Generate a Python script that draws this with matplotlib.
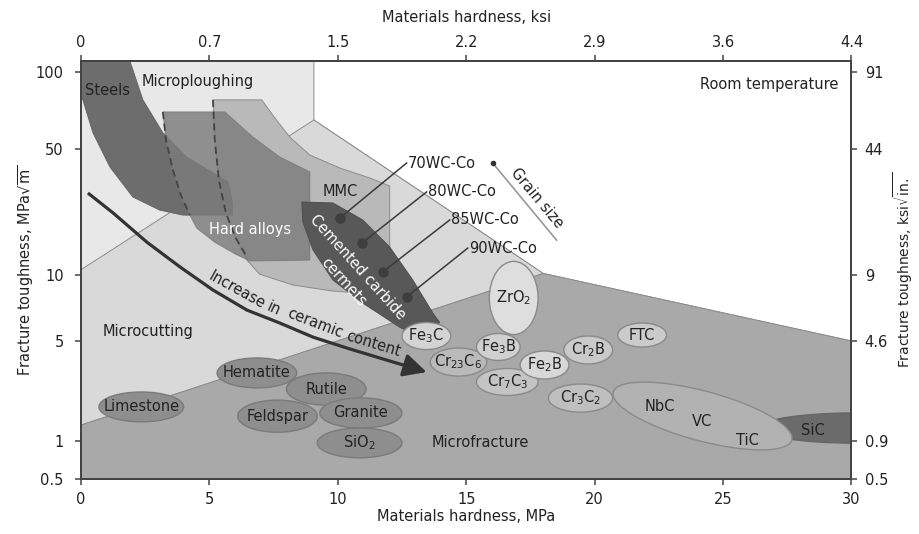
import numpy as np
import matplotlib
matplotlib.use('Agg')
import matplotlib.pyplot as plt
from matplotlib.patches import Polygon, Ellipse
from matplotlib.transforms import IdentityTransform

plt.rcParams['font.family'] = ['DejaVu Sans']
plt.rcParams['mathtext.fontset'] = 'dejavusans'

# hardness axis (MPa) with ksi equivalents on top
hard_ticks = [0, 5, 10, 15, 20, 25, 30]
ksi_labels = ['0', '0.7', '1.5', '2.2', '2.9', '3.6', '4.4']

# toughness axis (MPa*sqrt(m)) with ksi*sqrt(in) equivalents on the right
tough_ticks = [0.5, 1, 5, 10, 50, 100]
tough_labels = ['0.5', '1', '5', '10', '50', '100']
ksi_in_labels = ['0.5', '0.9', '4.6', '9', '44', '91']
# the toughness axis is stretched unevenly between ticks: height of each tick
tick_height = [0, 37.5, 138, 204, 330, 407]

# wear regimes (hardness, toughness)
ploughing = [(0, 0.5), (0, 110), (9.07, 110), (9.07, 64.9), (18.0, 10.2), (30, 5.0), (30, 0.5)]
cutting = [(0, 10.7), (9.07, 64.9), (18.0, 10.2), (0, 1.3)]
fracture = [(0, 0.5), (0, 1.3), (18.0, 10.2), (30, 5.0), (30, 0.5)]

steels = [(0, 110), (1.91, 110), (2.41, 77.8), (3.19, 57.8), (4.12, 45.1), (5.14, 36.8),
          (5.72, 32.8), (5.88, 26.1), (5.91, 21.5), (3.97, 21.5), (3.07, 22.9), (2.02, 27.1),
          (1.13, 39.7), (0.47, 57.8), (0.04, 79.8), (0, 79.8)]
mmc = [(5.14, 77.8), (7.04, 77.8), (7.55, 66.1), (8.13, 55.7), (8.91, 46.3), (10.08, 39.2),
       (11.25, 34.5), (12.02, 31.2), (12.02, 10.7), (10.86, 8.28), (9.81, 8.45), (8.25, 9.0),
       (6.96, 10.1), (6.46, 12.1), (6.03, 16.0), (5.64, 22.1), (5.37, 33.6), (5.21, 54.2)]
hard_alloys = [(3.19, 69.8), (5.60, 69.8), (6.69, 55.7), (7.74, 45.1), (8.91, 37.3), (8.91, 12.1),
               (6.58, 11.96), (6.0, 13.1), (5.21, 15.2), (4.51, 18.2), (4.24, 21.5), (3.89, 27.8),
               (3.58, 38.2), (3.31, 54.2)]
alloy_edge = [(3.19, 69.8), (3.31, 54.2), (3.58, 38.2), (3.89, 27.8), (4.24, 21.5)]
mmc_edge = [(5.14, 77.8), (5.21, 54.2), (5.37, 33.6), (5.64, 22.1), (6.03, 16.0), (6.46, 12.6)]
cemented = [(8.60, 25.4), (9.81, 25.1), (10.97, 20.2), (12.02, 14.3), (12.92, 9.49), (13.70, 6.71),
            (13.97, 6.07), (13.58, 5.61), (12.80, 5.49), (12.41, 5.78), (10.97, 7.45), (9.81, 9.49),
            (9.03, 13.8), (8.64, 19.7)]

# WC-Co grades on the cemented carbide field
wc_names = ['70WC-Co', '80WC-Co', '85WC-Co', '90WC-Co']
wc_hard = [10.08, 10.93, 11.75, 12.68]
wc_tough = [20.7, 15.0, 10.4, 7.94]
wc_lead_hard = [12.68, 13.46, 14.36, 15.06]
wc_lead_tough = [41.8, 28.9, 20.2, 14.1]

# ceramic content trend
arrow_hard = [0.27, 1.25, 2.57, 3.85, 5.14, 6.46, 7.74, 9.03, 10.35, 11.63, 12.80, 13.46]
arrow_tough = [28.5, 22.1, 15.2, 11.1, 8.54, 6.92, 6.04, 5.21, 4.47, 3.81, 3.30, 3.04]

# minerals: hardness range, toughness range
mineral_names = ['Limestone', 'Hematite', 'Rutile', 'Feldspar', 'Granite', 'SiO$_2$']
mineral_hard = [(0.7, 4.0), (5.3, 8.4), (8.0, 11.1), (6.1, 9.2), (9.3, 12.5), (9.2, 12.5)]
mineral_tough = [(1.37, 2.21), (2.36, 3.81), (1.79, 3.0), (1.16, 1.94), (1.24, 2.01), (0.74, 1.24)]

# hard phases
phase_names = ['Cr$_{23}$C$_6$', 'Fe$_3$C', 'Cr$_7$C$_3$', 'Fe$_3$B', 'Fe$_2$B', 'Cr$_2$B',
               'FTC', 'Cr$_3$C$_2$', 'ZrO$_2$']
phase_hard = [(13.6, 15.8), (12.5, 14.4), (15.4, 17.8), (15.4, 17.1), (17.1, 19.0), (18.8, 20.7),
              (20.9, 22.8), (18.2, 20.7), (15.9, 17.8)]
phase_tough = [(2.85, 4.47), (4.36, 6.07), (2.09, 3.22), (3.66, 5.41), (2.72, 4.26), (3.46, 5.27),
               (4.54, 6.04), (1.60, 2.51), (5.35, 11.9)]
phase_colors = ['#bababa', '#d4d4d4', '#c4c4c4', '#d0d0d0', '#d8d8d8', '#cacaca',
                '#cbcbcb', '#bfbfbf', '#dedede']

carbide_hard = (20.6, 27.8)
carbide_tough = (1.01, 2.24)
sic_hard = (26.4, 33.8)
sic_tough = (0.97, 1.58)

# piecewise log scale through the tick heights
log_t = np.log10(tough_ticks)
lo_slope = (tick_height[1] - tick_height[0]) / (log_t[1] - log_t[0])
hi_slope = (tick_height[-1] - tick_height[-2]) / (log_t[-1] - log_t[-2])
log_ext = np.r_[log_t[0] - 3, log_t, log_t[-1] + 3]
h_ext = np.r_[tick_height[0] - 3 * lo_slope, tick_height, tick_height[-1] + 3 * hi_slope]


def to_height(v):
    v = np.clip(np.asarray(v, dtype=float), 1e-6, None)
    return np.interp(np.log10(v), log_ext, h_ext)


def from_height(h):
    return 10 ** np.interp(np.asarray(h, dtype=float), h_ext, log_ext)


fig = plt.figure(figsize=(9.19, 5.34), dpi=100)
ax = fig.add_axes([0.0881, 0.103, 0.8384, 0.782])
ax.set_yscale('function', functions=(to_height, from_height))
ax.set_xlim(0, 30)
ax.set_ylim(0.5, 110)
ax.set_facecolor('white')

edge = '#8c8c8c'


def region(pts, fc, z, ec=edge, lw=0.7, alpha=1.0):
    ax.add_patch(Polygon(pts, closed=True, fc=fc, ec=ec, lw=lw, zorder=z, alpha=alpha))


region(ploughing, '#e8e8e8', 1)
region(cutting, '#d9d9d9', 1.1)
region(fracture, '#a9a9a9', 1.2)
region(mmc, '#b9b9b9', 2)
region(steels, '#6d6d6d', 2.1, ec='#666666')
region(hard_alloys, '#7c7c7c', 2.2, ec='#777777', alpha=0.82)
ax.plot(*zip(*alloy_edge), ls=(0, (4, 2.5)), color='#444444', lw=1.3, zorder=2.5)
ax.plot(*zip(*mmc_edge), ls=(0, (4, 2.5)), color='#444444', lw=1.3, zorder=2.5)
region(cemented, '#585858', 3, ec='#505050')


def blob(hard, tough, fc, angle=0, z=4, ec='#8a8a8a'):
    (x0, y0), (x1, y1) = ax.transData.transform([(hard[0], tough[0]), (hard[1], tough[1])])
    e = Ellipse(((x0 + x1) / 2, (y0 + y1) / 2), x1 - x0, y1 - y0, angle=angle,
                transform=IdentityTransform(), fc=fc, ec=ec, lw=1.0, zorder=z)
    ax.add_patch(e)
    return ax.transData.inverted().transform(e.center)


txt = dict(color='#222222', fontsize=10.5, ha='center', va='center', zorder=6)

for name, h, t in zip(mineral_names, mineral_hard, mineral_tough):
    cx, cy = blob(h, t, '#8e8e8e', ec='#7a7a7a')
    ax.text(cx, cy, name, **txt)

for name, h, t, c in zip(phase_names, phase_hard, phase_tough, phase_colors):
    cx, cy = blob(h, t, c)
    ax.text(cx, cy, name, **txt)

blob(sic_hard, sic_tough, '#6b6b6b', ec='#666666')
blob(carbide_hard, carbide_tough, '#b2b2b2', angle=-15, z=4.1)
ax.text(22.53, 1.74, 'NbC', **txt)
ax.text(24.2, 1.37, 'VC', **txt)
ax.text(25.95, 1.02, 'TiC', **txt)
ax.text(28.48, 1.20, 'SiC', **txt)

# WC-Co leaders
for name, x, y, lx, ly in zip(wc_names, wc_hard, wc_tough, wc_lead_hard, wc_lead_tough):
    ax.plot([x, lx], [y, ly], color='#3a3a3a', lw=1.1, zorder=5)
    ax.plot(x, y, 'o', ms=6.5, color='#3e3e3e', zorder=5)
    ax.text(lx + 0.05, ly, name, color='#222222', fontsize=10.5, ha='left', va='center', zorder=6)

# grain size direction
ax.plot([16.03, 18.52], [41.8, 15.6], color='#999999', lw=1.2, zorder=5)
ax.plot(16.03, 41.8, 'o', ms=3, color='#333333', zorder=5)
ax.text(17.74, 26.7, 'Grain size', rotation=-50, rotation_mode='anchor', **txt)

# ceramic content arrow
ax.plot(arrow_hard[:-1], arrow_tough[:-1], color='#333333', lw=2.3, zorder=5,
        solid_capstyle='butt')
ax.annotate('', xy=(arrow_hard[-1], arrow_tough[-1]), xytext=(arrow_hard[-2], arrow_tough[-2]),
            arrowprops=dict(arrowstyle='-|>,head_length=0.7,head_width=0.35', mutation_scale=20,
                            color='#333333', lw=2.3, shrinkA=0, shrinkB=0), zorder=5)
for word, x, y, rot in [('Increase', 6.07, 8.54, -29), ('in', 7.52, 7.05, -25),
                        ('ceramic', 9.12, 6.02, -21), ('content', 11.4, 4.8, -17)]:
    ax.text(x, y, word, rotation=rot, rotation_mode='anchor', **txt)

# region names
ax.text(0.16, 85, 'Steels', color='#222222', fontsize=10.5, ha='left', va='center', zorder=6)
ax.text(2.37, 92, 'Microploughing', color='#222222', fontsize=10.5, ha='left', va='center', zorder=6)
ax.text(29.5, 89, 'Room temperature', color='#222222', fontsize=10.5, ha='right', va='center', zorder=6)
ax.text(10.08, 29.2, 'MMC', **txt)
ax.text(6.58, 17.8, 'Hard alloys', **dict(txt, color='white'))
ax.text(10.78, 11.1, 'Cemented carbide', rotation=-48, rotation_mode='anchor', **dict(txt, color='white'))
ax.text(10.23, 9.3, 'cermets', rotation=-48, rotation_mode='anchor', **dict(txt, color='white'))
ax.text(0.86, 5.5, 'Microcutting', color='#222222', fontsize=10.5, ha='left', va='center', zorder=6)
ax.text(13.66, 0.99, 'Microfracture', color='#222222', fontsize=10.5, ha='left', va='center', zorder=6)

# axes
spine_c = '#444444'
ax.set_xticks(hard_ticks)
ax.set_yticks(tough_ticks, labels=tough_labels)
ax.tick_params(direction='out', length=4.5, width=1.1, color=spine_c, labelsize=10.5,
               labelcolor='#222222')
ax.tick_params(axis='x', pad=5)
ax.tick_params(axis='y', pad=8)
for s in ax.spines.values():
    s.set_color(spine_c)
    s.set_linewidth(1.4)
    s.set_zorder(7)

ax.set_xlabel('Materials hardness, MPa', fontsize=10.5, color='#222222')
ax.xaxis.set_label_coords(0.5, -0.072)
ax.set_ylabel(r'Fracture toughness, MPa$\sqrt{\mathrm{m}}$', fontsize=10.5, color='#222222')
ax.yaxis.set_label_coords(-0.058, 0.5)

top = ax.secondary_xaxis('top')
top.set_xticks(hard_ticks, labels=ksi_labels)
top.tick_params(direction='out', length=4.5, width=1.1, color=spine_c, labelsize=10.5,
                labelcolor='#222222', pad=4)
top.spines['top'].set_color(spine_c)
top.spines['top'].set_linewidth(1.4)
top.set_xlabel('Materials hardness, ksi', fontsize=10.5, color='#222222', labelpad=9)

right = ax.twinx()
right.set_yscale('function', functions=(to_height, from_height))
right.set_ylim(0.5, 110)
right.set_yticks(tough_ticks, labels=ksi_in_labels)
right.tick_params(direction='out', length=4.5, width=1.1, color=spine_c, labelsize=10.5,
                  labelcolor='#222222', pad=5)
for s in right.spines.values():
    s.set_color(spine_c)
    s.set_linewidth(1.4)
right.set_ylabel(r'Fracture toughness, ksi$\sqrt{\mathrm{in.}}$', fontsize=10, color='#222222')
right.yaxis.set_label_coords(1.052, 0.5)

fig.savefig('out.png', dpi=100)
